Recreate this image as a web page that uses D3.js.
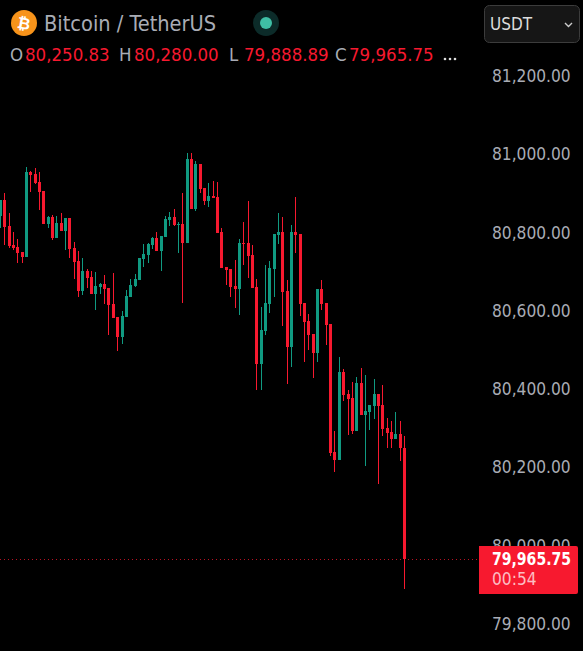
<!DOCTYPE html>
<html><head><meta charset="utf-8">
<style>html,body{margin:0;padding:0;background:#000;overflow:hidden}svg{display:block}text{font-family:"DejaVu Sans Condensed","DejaVu Sans",sans-serif;font-stretch:condensed}</style>
<script src="https://cdn.jsdelivr.net/npm/d3@7/dist/d3.min.js"></script>
</head><body><svg id="c" width="583" height="651"></svg>
<script>
const opens=[80842,80883,80817,80768,80763,80750,80738,80955,80950,80929,80906,80822,80840,80786,80824,80804,80837,80761,80727,80651,80702,80686,80643,80661,80669,80658,80617,80584,80533,80584,80635,80663,80679,80732,80743,80768,80786,80753,80789,80832,80840,80819,80822,80773,80988,80860,80975,80914,80881,80893,80891,80801,80712,80707,80663,80656,80773,80773,80743,80661,80464,80548,80617,80707,80794,80801,80651,80508,80801,80796,80620,80574,80541,80492,80656,80620,80566,80239,80219,80444,80388,80377,80293,80416,80334,80342,80357,80388,80359,80301,80290,80273,80285,80250.83];
const closes=[80883,80814,80766,80761,80748,80738,80955,80947,80927,80904,80822,80840,80786,80824,80804,80837,80758,80725,80651,80702,80684,80643,80663,80669,80656,80615,80582,80533,80587,80638,80666,80681,80735,80745,80771,80786,80753,80791,80835,80840,80819,80822,80773,80988,80860,80975,80911,80881,80893,80889,80799,80710,80704,80661,80656,80773,80771,80740,80658,80464,80551,80620,80709,80796,80801,80648,80508,80801,80794,80617,80571,80538,80492,80656,80617,80564,80237,80219,80444,80385,80375,80293,80416,80334,80344,80359,80388,80357,80298,80288,80273,80285,80250,79965.75];
const highs=[80883,80901,80850,80801,80784,80750,80968,80957,80965,80955,80906,80842,80845,80842,80850,80837,80837,80776,80753,80735,80707,80702,80699,80671,80692,80658,80697,80584,80600,80653,80681,80694,80735,80771,80773,80789,80801,80791,80842,80852,80860,80827,80901,81003,81003,80983,80975,80914,80927,80932,80929,80812,80712,80707,80730,80784,80827,80881,80768,80681,80610,80717,80727,80796,80850,80840,80679,80819,80891,80796,80620,80592,80541,80656,80679,80620,80566,80293,80482,80451,80398,80418,80431,80454,80436,80359,80426,80388,80411,80326,80319,80342,80319,80280];
const lows=[80812,80768,80761,80755,80722,80722,80738,80904,80924,80858,80822,80812,80781,80786,80804,80755,80735,80681,80635,80640,80658,80643,80602,80643,80617,80538,80582,80497,80515,80584,80635,80661,80679,80712,80722,80758,80753,80702,80789,80817,80817,80748,80620,80773,80860,80855,80901,80870,80865,80888,80799,80710,80666,80635,80607,80589,80717,80684,80658,80398,80398,80538,80594,80635,80771,80561,80413,80456,80748,80587,80469,80500,80428,80469,80602,80513,80229,80188,80219,80370,80283,80285,80293,80334,80204,80296,80324,80158,80280,80250,80250,80273,80216,79888.89];
const priceTicks=[81200,81000,80800,80600,80400,80200,80000,79800];
const ohlcLabels=["O","H","L","C"];
const ohlcValues=["80,250.83","80,280.00","79,888.89","79,965.75"];
const lastPrice=79965.75;

const RED="#f7192f",GREEN="#109a81",GREY="#a9acb5";
const svg=d3.select("#c");
const x=d3.scaleLinear().domain([0,opens.length-1]).range([0.33,404.5]);
const y=d3.scaleLinear().domain([79800,81200]).range([624,76]);
const data=opens.map((o,i)=>({i,o,c:closes[i],h:highs[i],l:lows[i]}));
const col=d=>d.c>=d.o?GREEN:RED;
const cx=d=>Math.floor(x(d.i))+0.5;

// last price line
svg.append("line").attr("x1",0).attr("x2",480).attr("y1",Math.floor(y(lastPrice))+0.5).attr("y2",Math.floor(y(lastPrice))+0.5)
  .attr("stroke",RED).attr("stroke-dasharray","1 3").attr("opacity",.75);

const g=svg.append("g").selectAll("g").data(data).join("g");
g.append("rect").attr("x",d=>cx(d)-0.5).attr("width",1)
  .attr("y",d=>Math.round(y(d.h))).attr("height",d=>Math.max(1,Math.round(y(d.l))-Math.round(y(d.h)))).attr("fill",col);
g.append("rect").attr("x",d=>cx(d)-1.5).attr("width",3)
  .attr("y",d=>Math.round(y(Math.max(d.o,d.c))))
  .attr("height",d=>Math.max(1,Math.round(y(Math.min(d.o,d.c)))-Math.round(y(Math.max(d.o,d.c))))).attr("fill",col);

// price axis
const axis=d3.axisRight(y).tickValues(priceTicks).tickSize(0).tickPadding(0).tickFormat(d3.format(",.2f"));
const ax=svg.append("g").attr("transform","translate(492,0)").call(axis);
ax.select(".domain").remove();
ax.selectAll("text").attr("fill",GREY).style("font-size","17.2px").style("font-family",'"DejaVu Sans Condensed","DejaVu Sans",sans-serif');

// last price tag
svg.append("path").attr("d","M479,546H576a2,2 0 0 1 2,2V592a2,2 0 0 1 -2,2H479Z").attr("fill",RED);
svg.append("text").attr("x",492).attr("y",565).attr("fill","#fff").attr("font-size",17.2).attr("font-weight",600).attr("textLength",79).attr("lengthAdjust","spacingAndGlyphs").text(d3.format(",.2f")(lastPrice));
svg.append("text").attr("x",492).attr("y",585).attr("fill","#fff").attr("fill-opacity",.72).attr("font-size",17.2).text("00:54");

// header
svg.append("circle").attr("cx",24).attr("cy",23).attr("r",13).attr("fill","#f7931a");
svg.append("text").attr("x",24).attr("y",29).attr("text-anchor","middle").attr("fill","#fff").attr("font-size",16).attr("font-weight",700).attr("transform","rotate(10 24 23)").text("₿");
svg.append("text").attr("x",44).attr("y",31).attr("fill",GREY).attr("font-size",21.6).text("Bitcoin / TetherUS");
svg.append("circle").attr("cx",266).attr("cy",23).attr("r",13).attr("fill","#0c2b29");
svg.append("circle").attr("cx",266).attr("cy",23).attr("r",6).attr("fill","#3fbfa5");

const lx=[10,119,229,335],vx=[25,134,244,349];
ohlcLabels.forEach((t,i)=>{
  svg.append("text").attr("x",lx[i]).attr("y",61).attr("fill",GREY).attr("font-size",18.5).text(t);
  svg.append("text").attr("x",vx[i]).attr("y",61).attr("fill",RED).attr("font-size",18.5).text(ohlcValues[i]);
});
svg.selectAll("circle.dot").data([445,450,455]).join("circle").attr("class","dot").attr("cx",d=>d).attr("cy",59).attr("r",1.3).attr("fill","#ddd");

// currency button
svg.append("rect").attr("x",484.5).attr("y",5.5).attr("width",95).attr("height",37).attr("rx",5).attr("fill","#161616").attr("stroke","#3c3c3c");
svg.append("text").attr("x",490).attr("y",30).attr("fill","#dcdcdc").attr("font-size",17).attr("font-weight",500).text("USDT");
svg.append("path").attr("d","M565,23l3.5,3.5l3.5,-3.5").attr("fill","none").attr("stroke","#ccc").attr("stroke-width",1.4);
</script></body></html>
